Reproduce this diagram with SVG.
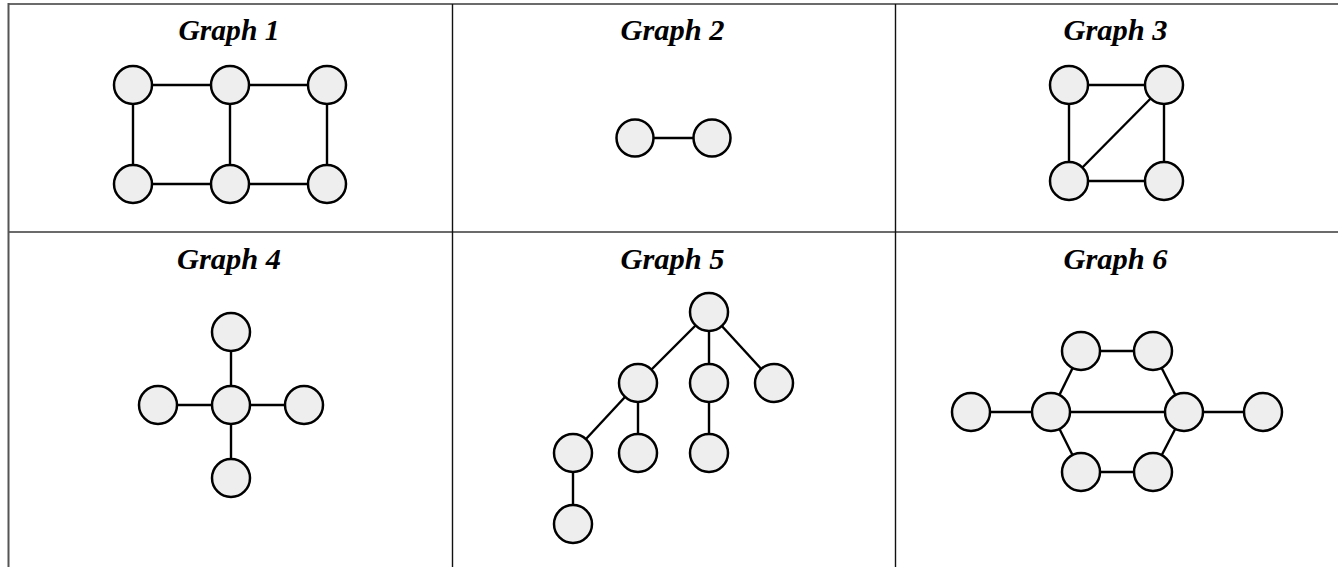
<svg xmlns="http://www.w3.org/2000/svg" width="1338" height="567" viewBox="0 0 1338 567">
  <style>
    .grid-h { stroke: #6b6b6b; stroke-width: 2; }
    .grid-v { stroke: #111; stroke-width: 1.4; }
    .grid-outer { stroke: #555; stroke-width: 2; }
    .edge { stroke: #000; stroke-width: 2.4; fill: none; }
    .node circle { fill: #eeeeee; stroke: #000; stroke-width: 2.5; }
    .title { font-family: "Liberation Serif", "Times New Roman", serif; font-weight: bold; font-style: italic; font-size: 29px; fill: #000; text-anchor: middle; }
  </style>
  <rect width="1338" height="567" fill="#fff"/>

  <!-- table grid -->
  <g id="table">
    <line class="grid-h" x1="8" y1="4" x2="1338" y2="4"/>
    <line class="grid-h" x1="8" y1="232" x2="1338" y2="232"/>
    <line class="grid-outer" x1="8.5" y1="3" x2="8.5" y2="567"/>
    <line class="grid-v" x1="452.5" y1="4" x2="452.5" y2="567"/>
    <line class="grid-v" x1="895.5" y1="4" x2="895.5" y2="567"/>
  </g>

  <!-- cell titles -->
  <g id="titles">
    <text class="title" x="229" y="40" textLength="101" lengthAdjust="spacingAndGlyphs">Graph 1</text>
    <text class="title" x="672.5" y="40" textLength="104" lengthAdjust="spacingAndGlyphs">Graph 2</text>
    <text class="title" x="1115.5" y="40" textLength="104" lengthAdjust="spacingAndGlyphs">Graph 3</text>
    <text class="title" x="229" y="269" textLength="104" lengthAdjust="spacingAndGlyphs">Graph 4</text>
    <text class="title" x="672.5" y="269" textLength="104" lengthAdjust="spacingAndGlyphs">Graph 5</text>
    <text class="title" x="1115.5" y="269" textLength="104" lengthAdjust="spacingAndGlyphs">Graph 6</text>
  </g>

  <!-- connectors -->
  <g id="connectors">
    <!-- graph 1 -->
    <line class="edge" x1="133" y1="85" x2="327" y2="85"/>
    <line class="edge" x1="133" y1="184" x2="327" y2="184"/>
    <line class="edge" x1="133" y1="85" x2="133" y2="184"/>
    <line class="edge" x1="230" y1="85" x2="230" y2="184"/>
    <line class="edge" x1="327" y1="85" x2="327" y2="184"/>
    <!-- graph 2 -->
    <line class="edge" x1="635" y1="138" x2="712" y2="138"/>
    <!-- graph 3 -->
    <line class="edge" x1="1069" y1="85" x2="1164" y2="85"/>
    <line class="edge" x1="1069" y1="181" x2="1164" y2="181"/>
    <line class="edge" x1="1069" y1="85" x2="1069" y2="181"/>
    <line class="edge" x1="1164" y1="85" x2="1164" y2="181"/>
    <line class="edge" x1="1069" y1="181" x2="1164" y2="85"/>
    <!-- graph 4 -->
    <line class="edge" x1="231" y1="332" x2="231" y2="478"/>
    <line class="edge" x1="158" y1="405" x2="304" y2="405"/>
    <!-- graph 5 -->
    <line class="edge" x1="709" y1="312" x2="638" y2="383"/>
    <line class="edge" x1="709" y1="312" x2="709" y2="453"/>
    <line class="edge" x1="709" y1="312" x2="774" y2="383"/>
    <line class="edge" x1="638" y1="383" x2="573" y2="453"/>
    <line class="edge" x1="638" y1="383" x2="638" y2="453"/>
    <line class="edge" x1="573" y1="453" x2="573" y2="524"/>
    <!-- graph 6 -->
    <line class="edge" x1="971" y1="412" x2="1263" y2="412"/>
    <line class="edge" x1="1051" y1="412" x2="1081" y2="351"/>
    <line class="edge" x1="1081" y1="351" x2="1153" y2="351"/>
    <line class="edge" x1="1153" y1="351" x2="1184" y2="412"/>
    <line class="edge" x1="1051" y1="412" x2="1081" y2="472"/>
    <line class="edge" x1="1081" y1="472" x2="1153" y2="472"/>
    <line class="edge" x1="1153" y1="472" x2="1184" y2="412"/>
  </g>

  <!-- graph 1 nodes -->
  <g id="g1-n1" class="node"><circle cx="133" cy="85" r="19"/></g>
  <g id="g1-n2" class="node"><circle cx="230" cy="85" r="19"/></g>
  <g id="g1-n3" class="node"><circle cx="327" cy="85" r="19"/></g>
  <g id="g1-n4" class="node"><circle cx="133" cy="184" r="19"/></g>
  <g id="g1-n5" class="node"><circle cx="230" cy="184" r="19"/></g>
  <g id="g1-n6" class="node"><circle cx="327" cy="184" r="19"/></g>

  <!-- graph 2 nodes -->
  <g id="g2-n1" class="node"><circle cx="635" cy="138" r="18.5"/></g>
  <g id="g2-n2" class="node"><circle cx="712" cy="138" r="18.5"/></g>

  <!-- graph 3 nodes -->
  <g id="g3-n1" class="node"><circle cx="1069" cy="85" r="19"/></g>
  <g id="g3-n2" class="node"><circle cx="1164" cy="85" r="19"/></g>
  <g id="g3-n3" class="node"><circle cx="1069" cy="181" r="19"/></g>
  <g id="g3-n4" class="node"><circle cx="1164" cy="181" r="19"/></g>

  <!-- graph 4 nodes -->
  <g id="g4-top" class="node"><circle cx="231" cy="332" r="19"/></g>
  <g id="g4-left" class="node"><circle cx="158" cy="405" r="19"/></g>
  <g id="g4-center" class="node"><circle cx="231" cy="405" r="19"/></g>
  <g id="g4-right" class="node"><circle cx="304" cy="405" r="19"/></g>
  <g id="g4-bottom" class="node"><circle cx="231" cy="478" r="19"/></g>

  <!-- graph 5 nodes -->
  <g id="g5-root" class="node"><circle cx="709" cy="312" r="19"/></g>
  <g id="g5-a" class="node"><circle cx="638" cy="383" r="19"/></g>
  <g id="g5-b" class="node"><circle cx="709" cy="383" r="19"/></g>
  <g id="g5-c" class="node"><circle cx="774" cy="383" r="19"/></g>
  <g id="g5-d" class="node"><circle cx="573" cy="453" r="19"/></g>
  <g id="g5-e" class="node"><circle cx="638" cy="453" r="19"/></g>
  <g id="g5-f" class="node"><circle cx="709" cy="453" r="19"/></g>
  <g id="g5-g" class="node"><circle cx="573" cy="524" r="19"/></g>

  <!-- graph 6 nodes -->
  <g id="g6-far-left" class="node"><circle cx="971" cy="412" r="19"/></g>
  <g id="g6-left" class="node"><circle cx="1051" cy="412" r="19"/></g>
  <g id="g6-right" class="node"><circle cx="1184" cy="412" r="19"/></g>
  <g id="g6-far-right" class="node"><circle cx="1263" cy="412" r="19"/></g>
  <g id="g6-top-l" class="node"><circle cx="1081" cy="351" r="19"/></g>
  <g id="g6-top-r" class="node"><circle cx="1153" cy="351" r="19"/></g>
  <g id="g6-bot-l" class="node"><circle cx="1081" cy="472" r="19"/></g>
  <g id="g6-bot-r" class="node"><circle cx="1153" cy="472" r="19"/></g>
</svg>
